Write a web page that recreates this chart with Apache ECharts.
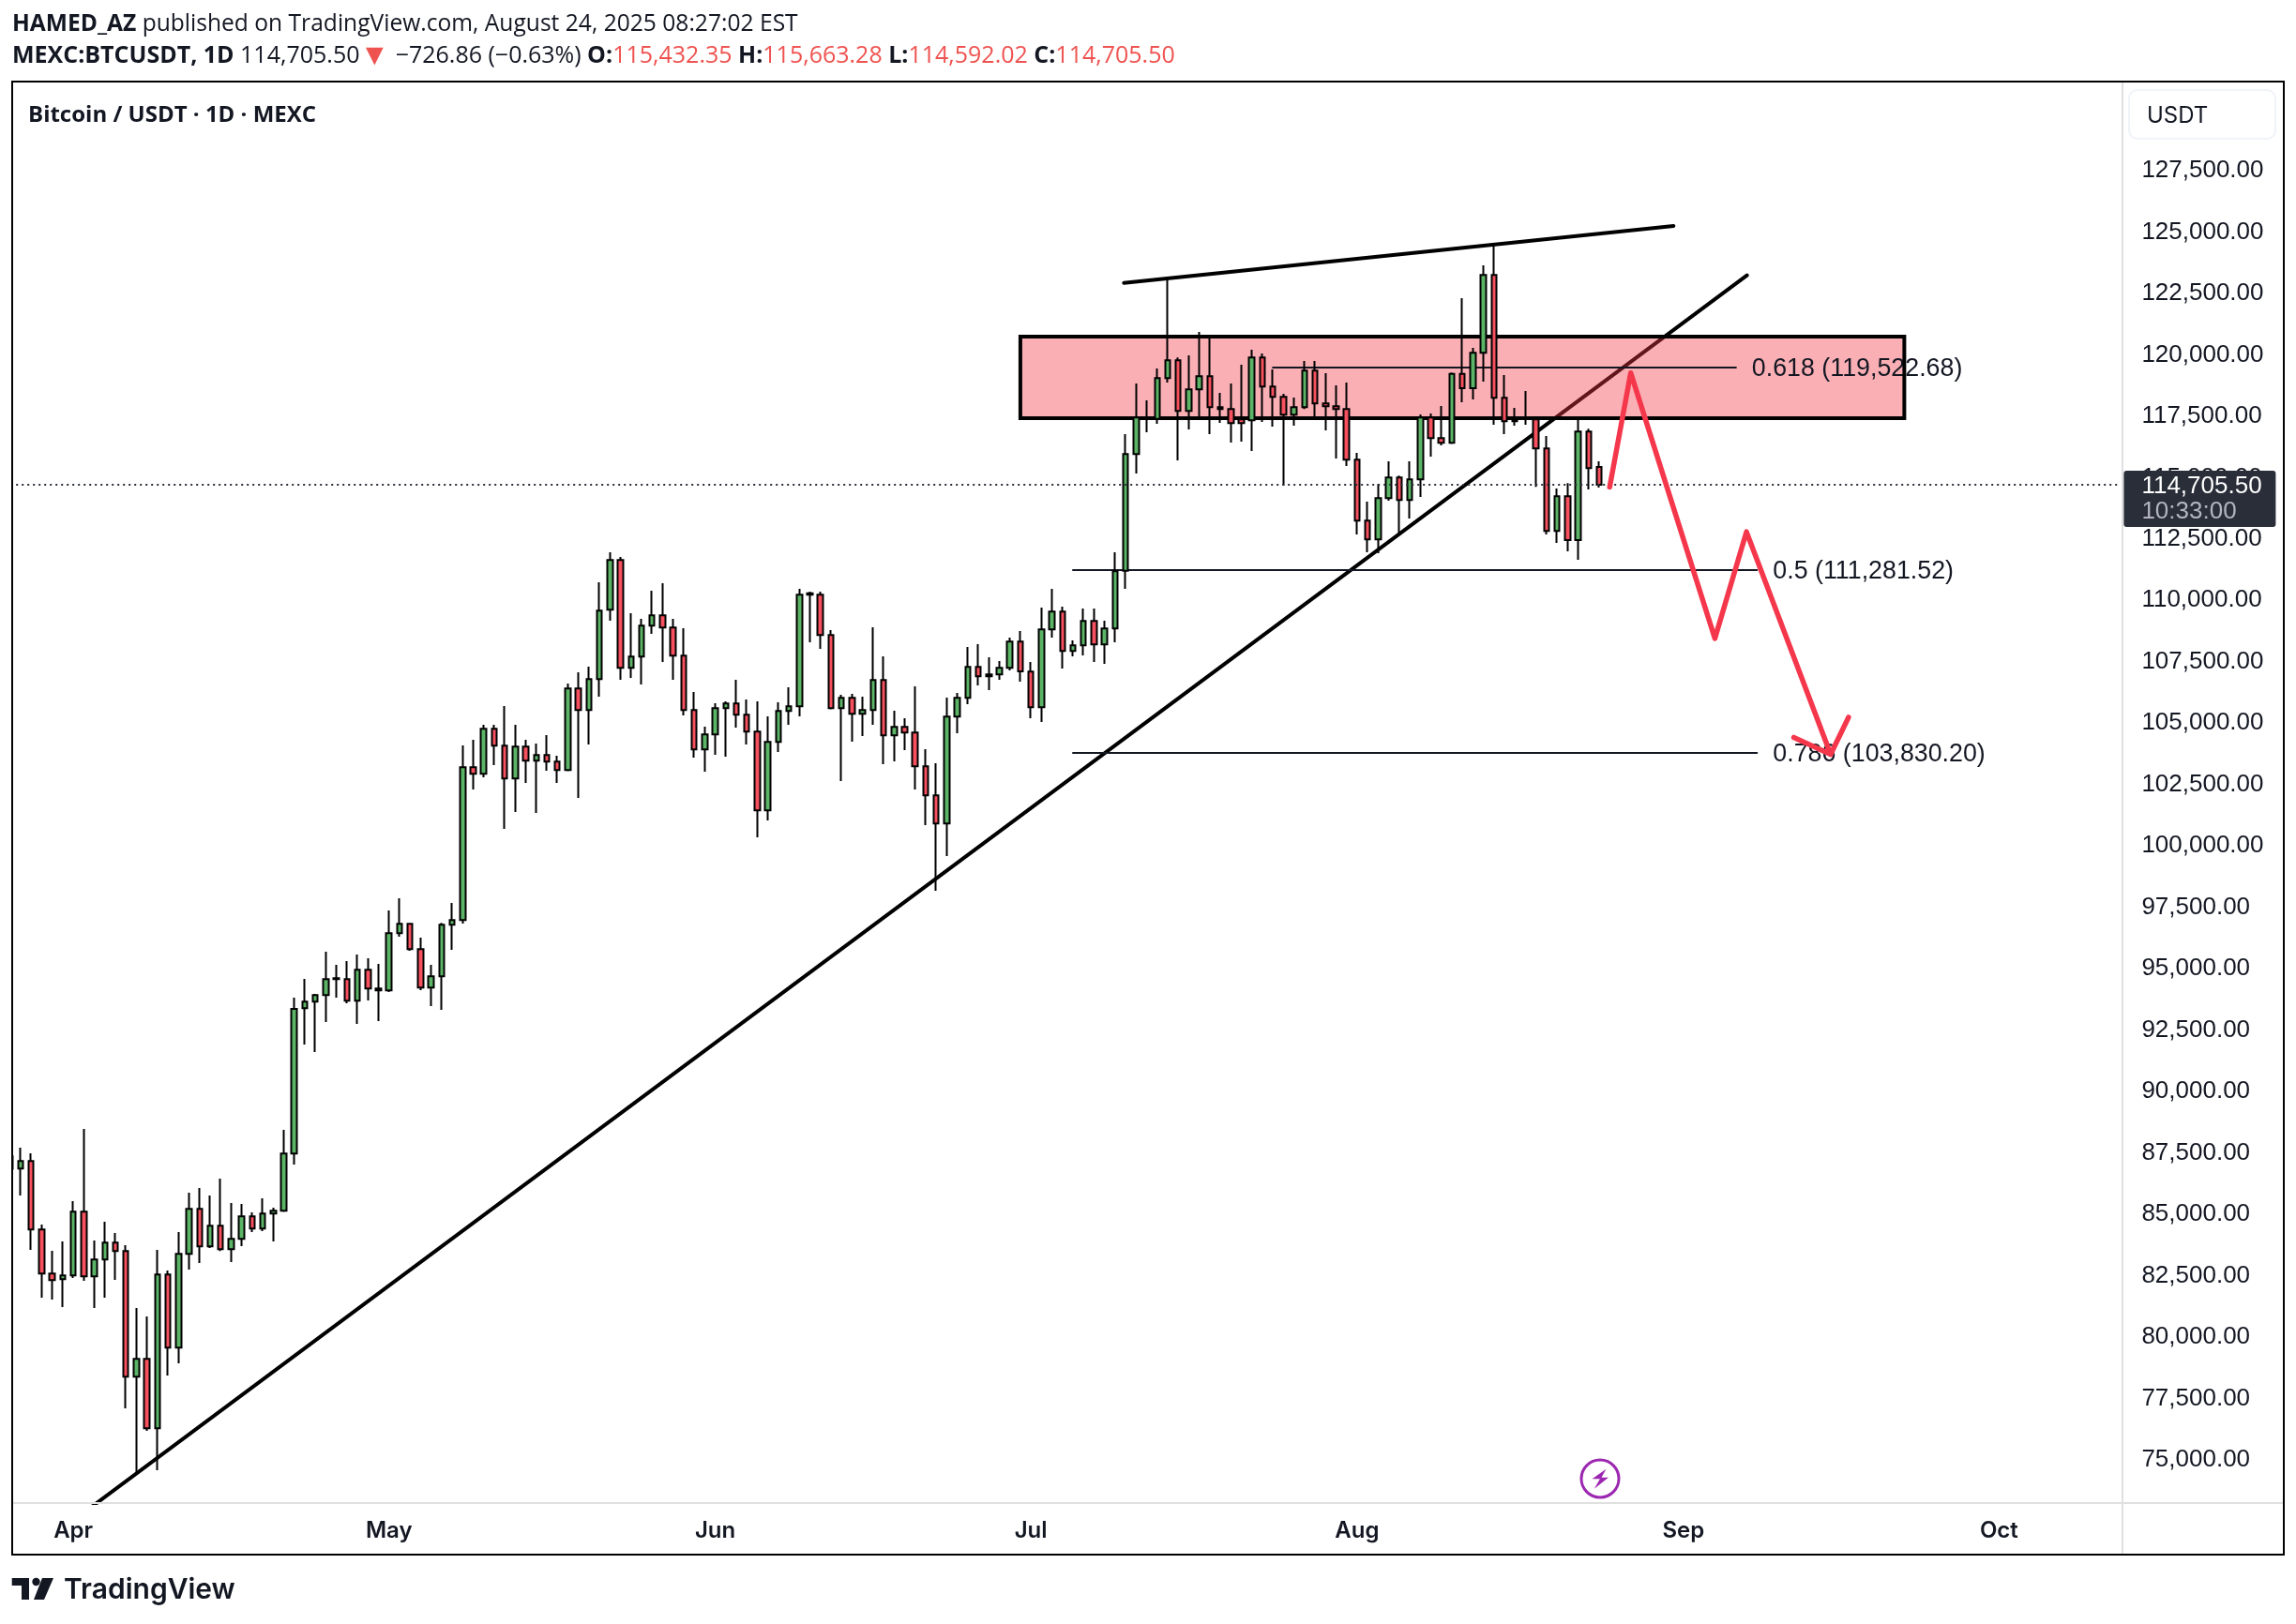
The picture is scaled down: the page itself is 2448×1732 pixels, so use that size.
<!DOCTYPE html>
<meta charset="utf-8">
<style>html,body{margin:0;background:#fff}</style>
<script src="https://cdn.jsdelivr.net/npm/echarts@6/dist/echarts.min.js"></script>
<div id="main" style="width:2448px;height:1732px"></div>

<script type="text/javascript">
const firstDay=Date.UTC(2025,2,26)
const dayCount=201
const days=Array.from({length:dayCount},(_,i)=>new Date(firstDay+i*864e5).toISOString().slice(0,10))
const monthLabels={'2025-04-01':'Apr','2025-05-01':'May','2025-06-01':'Jun','2025-07-01':'Jul','2025-08-01':'Aug','2025-09-01':'Sep','2025-10-01':'Oct'}
const priceTicks=[75000,77500,80000,82500,85000,87500,90000,92500,95000,97500,100000,102500,105000,107500,110000,112500,115000,117500,120000,122500,125000,127500]

const opens=[86851,86864,87169,84382,82588,82359,82511,85108,82473,83160,83848,83504,78388,79113,76288,82549,79571,83389,85222,83695,84535,83580,84000,84917,84420,85031,85146,87475,93392,93660,93927,94576,94576,93698,94958,94194,94118,96447,96829,95798,94232,94691,96791,96981,103205,102938,104770,104083,102747,104045,103472,103701,103434,103090,106412,105534,106794,109619,111643,107252,107710,108970,109390,108894,107748,105534,103930,104541,105610,105801,105343,104655,101448,104235,105495,105686,110230,110230,108588,105610,106030,105381,105534,106755,104503,104846,104617,103243,102059,100914,105266,106030,107290,106908,106985,107252,108321,107099,105648,108817,109543,107939,108168,109161,108206,108855,111210,115957,117383,117395,119050,119775,117713,118592,119126,117866,117790,117370,117332,119890,118706,118286,117561,117866,119355,118019,117904,117790,115728,113246,112483,114163,115003,114086,114926,117446,116606,116415,119228,118643,120081,123250,118248,117370,117395,117370,116186,112826,114239,112457,116873,115432.35]
const closes=[87360,87169,84382,82588,82320,82511,85108,82473,83160,83848,83504,78388,79113,76288,82549,79571,83389,85222,83695,84535,83580,84000,84917,84420,85031,85146,87475,93367,93660,93927,94576,94614,93698,94958,94194,94118,96447,96829,95798,94232,94691,96791,96981,103205,102938,104770,104083,102747,104045,103472,103701,103434,103090,106412,105534,106794,109581,111643,107252,107710,108970,109390,108894,107748,105534,103930,104541,105610,105801,105343,104655,101448,104235,105495,105686,110230,110293,108588,105610,106030,105381,105534,106755,104503,104846,104617,103243,102059,100914,105266,106030,107290,106908,106985,107252,108321,107112,105648,108817,109543,107939,108168,109161,108206,108855,111184,115957,117446,117459,119050,119775,117713,118592,119126,117866,117790,117217,117217,119890,118706,118286,117561,117866,119355,118019,117904,117790,115728,113246,112483,114163,115003,114086,114926,117446,116606,116415,119228,118643,120081,123250,118248,117293,117293,117446,116186,112826,114239,112457,116873,115384,114705.5]
const lows=[86400,85769,83555,81608,81531,81226,82409,82295,81188,81608,82333,77102,74506,76186,74582,78439,78935,82753,83020,83631,83500,83058,83708,84280,84318,83898,85100,87029,91916,91611,92832,93825,93596,92756,93711,92871,94050,96307,95734,94131,93482,93329,95772,96841,102301,102798,103294,100698,101385,102569,101347,103065,102569,103040,101958,104134,106081,109174,106768,106844,106577,108639,107494,106768,105317,103599,103026,103714,103637,104821,104134,100354,101041,103828,104935,105279,108295,108028,105560,102645,104248,104477,104935,103332,103446,103905,102301,100850,98177,99590,104592,105775,106539,106348,106768,107150,106692,105203,105050,108486,107226,107723,107761,107494,107417,108295,110472,115168,116848,117192,118872,115703,116963,117421,116772,117230,116428,116466,116084,117268,117077,114672,117115,117790,117421,116924,115779,115473,112686,111961,111923,114061,112686,113335,114214,115855,116313,116370,118070,118184,118910,117153,116772,117115,117153,114621,112686,112343,111999,111655,114519,114592.02]
const highs=[87700,87717,87487,84586,83517,83898,85540,88480,83937,84700,84242,83746,81188,80844,83555,82715,84280,85884,86075,85769,86457,85464,85426,85082,85655,85273,88442,93825,94589,93978,95696,95161,95314,95581,95429,95200,97376,97872,96867,96269,95161,96867,97681,104096,104325,104936,104936,105699,104936,104325,104172,104516,103676,106616,107074,107303,110739,111961,111770,109479,109250,110395,110701,109250,108868,106272,104859,105814,105890,106768,105966,105890,105279,105852,106463,110472,110357,110357,108792,106157,106195,106081,108906,107723,105508,105203,106501,103943,103370,106043,106234,108104,108219,107684,107532,108486,108754,107494,109708,110472,109746,108372,109670,109670,109174,111961,116772,118833,118146,119444,123186,119890,119979,120933,120704,118452,118833,119597,120208,120055,119406,118413,118261,119750,119750,119253,118757,118872,116008,114023,114748,115664,115079,115664,117573,117612,117917,119280,122308,120284,123644,124446,119177,117841,118528,117420,116695,114557,114774,117395,116988,115663.28]

const lastPrice=114705.5
// drawings: [day index from firstDay, price]
const trendLine=[[6.2,72597],[165.05,123239]]
const resistanceLine=[[105.84,122930],[158.07,125247]]
const zoneCorners=[[96,120742],[180,117421]]
const fib618=[[120,119482],[164,119482]]
const fib500=[[101,111235],[166,111235]]
const fib786=[[101,103790],[166,103790]]
const arrowPath=[[152,114618],[154,119265],[162,108452],[165,112793],[173,103733]]
const arrowHead=[[169.5,104420],[173,103733],[174.7,105241]]

const ink='#131722', uiFont='Inter', numFont='"Liberation Sans"', headFont='"Open Sans"', arrowRed='#f5374c'

const drawing=(name,data,color,width,z,extra)=>Object.assign({
  name, type:'line', xAxisIndex:1, data, z, symbol:'none', silent:true,
  lineStyle:{color,width,cap:'round',join:'round'},
}, extra)
const fibLine=(data,text)=>drawing(text,data,ink,2,4,{
  endLabel:{show:true,formatter:text,distance:17,offset:[0,2],color:ink,fontFamily:numFont,fontSize:26.8},
})
const zone=(z,fill,border)=>drawing('zone'+z,[],ink,0,z,{
  markArea:{silent:true,z,itemStyle:{color:fill,borderColor:border,borderWidth:border==='transparent'?0:4},
    data:[[{coord:zoneCorners[0]},{coord:zoneCorners[1]}]]},
})

const myChart=echarts.init(main)
myChart.setOption({
  animation:false,
  backgroundColor:'#fff',
  title:[
    {left:13,top:13,padding:0,text:'{b|HAMED_AZ} published on TradingView.com, August 24, 2025 08:27:02 EST',
      textStyle:{fontFamily:headFont,fontSize:24.6,fontWeight:400,color:ink,rich:{b:{fontFamily:headFont,fontSize:24.6,fontWeight:700,color:ink}}}},
    {left:13,top:44,padding:0,text:'{b|MEXC:BTCUSDT, 1D} 114,705.50{v|▼} −726.86 (−0.63%) {b|O:}{r|115,432.35} {b|H:}{r|115,663.28} {b|L:}{r|114,592.02} {b|C:}{r|114,705.50}',
      textStyle:{fontFamily:headFont,fontSize:25,fontWeight:400,color:ink,rich:{
        b:{fontFamily:headFont,fontSize:25,fontWeight:700,color:ink},
        r:{fontFamily:headFont,fontSize:25,color:'#ef5350'},
        v:{fontFamily:headFont,fontSize:32,color:'#ef5350'}}}},
    {left:30,top:111,padding:0,text:'Bitcoin / USDT · 1D · MEXC',
      textStyle:{fontFamily:headFont,fontSize:24,fontWeight:700,color:ink}},
  ],
  grid:{left:5.19,top:88,width:2255.2,height:1515},
  xAxis:[
    {type:'category',data:days,boundaryGap:true,
      axisLine:{show:false},axisTick:{show:false},splitLine:{show:false},
      axisLabel:{interval:(i,v)=>v in monthLabels,formatter:v=>monthLabels[v]||'',margin:18,
        color:ink,fontFamily:uiFont,fontWeight:600,fontSize:24,hideOverlap:false}},
    {type:'value',min:-0.5,max:dayCount-0.5,show:false},
  ],
  yAxis:{type:'value',position:'right',min:73243,max:131089,scale:true,
    axisLine:{show:false},axisTick:{show:false},splitLine:{show:false},
    axisLabel:{customValues:priceTicks,margin:23,padding:[3,0,0,0],color:ink,fontFamily:numFont,fontSize:26,
      formatter:v=>v.toLocaleString('en-US',{minimumFractionDigits:2})}},
  series:[
    drawing('trend',trendLine,'#000',4,2),
    drawing('resistance',resistanceLine,'#000',4,2),
    zone(3,'rgba(242,54,69,0.4)','transparent'),
    fibLine(fib618,'0.618 (119,522.68)'),
    fibLine(fib500,'0.5 (111,281.52)'),
    fibLine(fib786,'0.786 (103,830.20)'),
    zone(5,'transparent','#000'),
    {name:'BTCUSDT',type:'candlestick',xAxisIndex:0,z:6,barWidth:6,silent:true,
      data:opens.map((o,i)=>[o,closes[i],lows[i],highs[i]]),
      itemStyle:{color:'#5cb566',color0:'#f7505f',borderColor:'#000',borderColor0:'#000',borderWidth:2},
      markLine:{z:7,silent:true,symbol:'none',animation:false,
        lineStyle:{color:'#2a2e39',width:2,type:[2,4]},
        data:[{yAxis:lastPrice}],
        label:{position:'end',distance:4,offset:[0,15],
          formatter:'{a|114,705.50}\n{c|10:33:00}',
          backgroundColor:'#2a2e39',borderRadius:3,padding:[3,9,3,19],width:134,align:'left',
          rich:{a:{color:'#fff',fontFamily:numFont,fontSize:26,lineHeight:27},c:{color:'#b2b5be',fontFamily:numFont,fontSize:26,lineHeight:27}}}},
    },
    drawing('arrow',arrowPath,arrowRed,5.5,8),
    drawing('arrowhead',arrowHead,arrowRed,5.5,8),
  ],
  graphic:[
    {type:'rect',z:100,shape:{x:0,y:88,width:13,height:1515},style:{fill:'#fff'}},
    {type:'line',z:100,shape:{x1:2263,y1:88,x2:2263,y2:1657},style:{stroke:'#e0e0e0',lineWidth:2}},
    {type:'line',z:100,shape:{x1:14,y1:1603,x2:2434,y2:1603},style:{stroke:'#e0e0e0',lineWidth:2}},
    {type:'rect',z:101,shape:{x:13,y:87,width:2422,height:1571},style:{fill:'none',stroke:'#000',lineWidth:2}},
    {type:'rect',z:100,shape:{x:2270,y:96,width:156,height:52,r:9},style:{fill:'#fff',stroke:'#f0f3fa',lineWidth:2}},
    {type:'text',z:100,x:2289,y:124,style:{text:'USDT',fill:ink,font:'24px Inter',textVerticalAlign:'middle'}},
    {type:'circle',z:100,shape:{cx:1706,cy:1577,r:20},style:{fill:'#fff',stroke:'#9c27b0',lineWidth:3}},
    {type:'polygon',z:100,shape:{points:[[1712.4,1566.7],[1697.6,1577.3],[1705.9,1577.3],[1699.8,1587.7],[1715,1575.7],[1707.5,1575.7]]},style:{fill:'#9c27b0'}},
    {type:'polygon',z:100,shape:{points:[[12.7,1683],[31,1683],[31,1706],[23,1706],[23,1691],[12.7,1691]]},style:{fill:ink}},
    {type:'circle',z:100,shape:{cx:38.5,cy:1687,r:4.2},style:{fill:ink}},
    {type:'polygon',z:100,shape:{points:[[45,1683],[57,1683],[47,1706],[36,1706]]},style:{fill:ink}},
    {type:'text',z:100,x:68,y:1696,style:{text:'TradingView',fill:ink,font:'600 30px Inter',textVerticalAlign:'middle'}},
  ],
})
</script>
